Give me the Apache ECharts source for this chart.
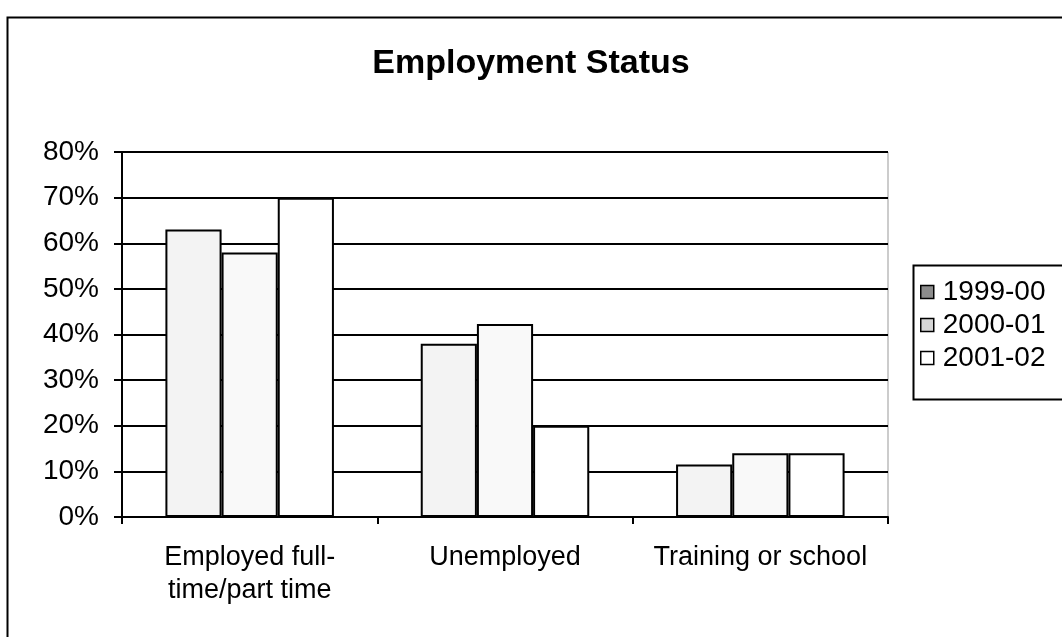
<!DOCTYPE html>
<html>
<head>
<meta charset="utf-8">
<script src="https://cdn.jsdelivr.net/npm/echarts@6/dist/echarts.min.js"></script>
<style>
  html, body { margin: 0; padding: 0; background: #fff; }
  #main { width: 1062px; height: 637px; }
</style>
</head>
<body>
<div id="main"></div>
<script>
  // data
  const categories = ['Employed full-\ntime/part time', 'Unemployed', 'Training or school']
  const seriesNames = ['1999-00', '2000-01', '2001-02']
  const values1999 = [63, 38, 11.5]
  const values2000 = [58, 42.3, 14]
  const values2001 = [70, 20, 14]
  const yTicks = [0, 10, 20, 30, 40, 50, 60, 70, 80]

  const barFills = ['#f3f3f3', '#f9f9f9', '#ffffff']
  const legendFills = ['#8c8c8c', '#d6d6d6', '#ffffff']
  const font = 'Arial, "Liberation Sans", sans-serif'

  const myChart = echarts.init(document.getElementById('main'))

  const allValues = [values1999, values2000, values2001]
  const series = seriesNames.map(function (name, i) {
    return {
      name: name,
      type: 'bar',
      data: allValues[i],
      barGap: '0%',
      barCategoryGap: '34%',
      itemStyle: {
        color: barFills[i],
        borderColor: '#000',
        borderWidth: 2
      },
      emphasis: { disabled: true }
    }
  })

  const option = {
    backgroundColor: '#fff',
    animation: false,
    title: {
      text: 'Employment Status',
      left: 'center',
      top: 42,
      textStyle: {
        fontFamily: font,
        fontSize: 34,
        fontWeight: 'bold',
        color: '#000'
      }
    },
    legend: {
      orient: 'vertical',
      left: 915,
      top: 273,
      icon: 'rect',
      itemWidth: 13,
      itemHeight: 13,
      itemGap: 5,
      textStyle: { fontFamily: font, fontSize: 28, color: '#000', padding: [0, 0, 0, 4] },
      data: seriesNames.map(function (name, i) {
        return { name: name, itemStyle: { color: legendFills[i], borderColor: '#000', borderWidth: 1.5 } }
      })
    },
    grid: {
      left: 122,
      right: 174,
      top: 152,
      bottom: 120,
      show: true,
      borderColor: '#999',
      borderWidth: 1
    },
    xAxis: {
      type: 'category',
      data: categories,
      axisLine: { lineStyle: { color: '#000', width: 2 } },
      axisTick: { show: true, length: 7, inside: false, lineStyle: { color: '#000', width: 2 } },
      axisLabel: {
        fontFamily: font,
        fontSize: 27,
        color: '#000',
        margin: 24,
        lineHeight: 33,
        interval: 0
      }
    },
    yAxis: {
      type: 'value',
      min: 0,
      max: 80,
      interval: 10,
      axisLine: { show: true, lineStyle: { color: '#000', width: 2 } },
      axisTick: { show: true, length: 8, lineStyle: { color: '#000', width: 2 } },
      axisLabel: {
        fontFamily: font,
        fontSize: 28,
        color: '#000',
        margin: 23,
        formatter: function (v) { return yTicks.indexOf(v) >= 0 ? v + '%' : '' }
      },
      splitLine: { lineStyle: { color: '#000', width: 2 } }
    },
    graphic: [
      {
        type: 'rect',
        left: 5,
        top: 15,
        shape: { width: 1200, height: 800 },
        style: { fill: 'none', stroke: '#000', lineWidth: 2 },
        silent: true
      },
      {
        type: 'rect',
        left: 911,
        top: 263,
        shape: { width: 300, height: 134 },
        style: { fill: 'none', stroke: '#000', lineWidth: 2 },
        silent: true
      }
    ],
    series: series
  }

  myChart.setOption(option, true)
</script>
</body>
</html>
